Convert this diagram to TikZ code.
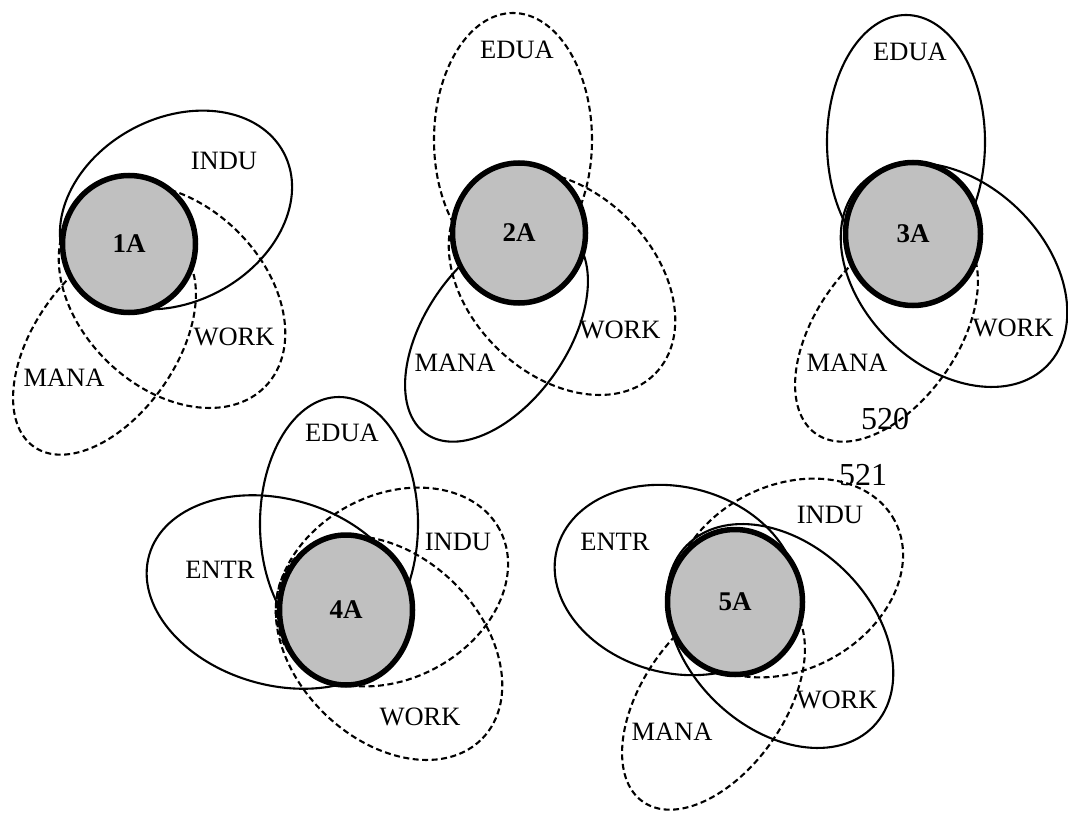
\documentclass[tikz,border=0pt]{standalone}
\usepackage{fontspec}
\setmainfont{Liberation Serif}
\usetikzlibrary{shapes.geometric}
\definecolor{corefill}{RGB}{192,192,192}
\begin{document}
\begin{tikzpicture}[x=1pt,y=-1pt,
  solidell/.style={line width=2.1pt},
  dashell/.style={line width=2.1pt, dash pattern=on 6pt off 3.5pt},
  core/.style={ellipse, draw, line width=5.5pt, fill=corefill, inner sep=0pt,
    font=\fontsize{27}{32}\selectfont\bfseries},
  lbl/.style={font=\fontsize{26.5}{31}\selectfont, inner sep=0pt},
  num/.style={font=\fontsize{32}{38}\selectfont, inner sep=0pt}]
\useasboundingbox (0,0) rectangle (1068,813);

% ---------- cluster 1 ----------
\draw[solidell, rotate around={28:(176,210)}] (176,210) ellipse [x radius=122pt, y radius=92pt];
\draw[dashell, rotate around={-44:(172,296)}] (172,296) ellipse [x radius=130pt, y radius=92pt];
\draw[dashell, rotate around={55:(104.5,346)}] (104.5,346) ellipse [x radius=123pt, y radius=71pt];
\node[core, minimum width=133pt, minimum height=137pt] (c1) at (129,244) {1A};
\node[lbl] (l1i) at (224,161) {INDU};
\node[lbl] (l1w) at (234,337) {WORK};
\node[lbl] (l1m) at (64,378) {MANA};

% ---------- cluster 2 ----------
\draw[dashell] (513,140) ellipse [x radius=79pt, y radius=127pt];
\draw[dashell, rotate around={-44:(562,283)}] (562,283) ellipse [x radius=130pt, y radius=92pt];
\draw[solidell, rotate around={55:(496.5,333)}] (496.5,333) ellipse [x radius=123pt, y radius=71pt];
\node[core, minimum width=133pt, minimum height=140pt] (c2) at (519,233) {2A};
\node[lbl] (l2e) at (517,50) {EDUA};
\node[lbl] (l2w) at (620,330) {WORK};
\node[lbl] (l2m) at (455,363) {MANA};

% ---------- cluster 3 ----------
\draw[solidell] (906,142) ellipse [x radius=79pt, y radius=127pt];
\draw[solidell, rotate around={-44:(954,275)}] (954,275) ellipse [x radius=130pt, y radius=92pt];
\draw[dashell, rotate around={55:(886.5,333)}] (886.5,333) ellipse [x radius=123pt, y radius=71pt];
\node[core, minimum width=135pt, minimum height=143pt] (c3) at (913,234) {3A};
\node[lbl] (l3e) at (910,52) {EDUA};
\node[lbl] (l3w) at (1013,328) {WORK};
\node[lbl] (l3m) at (847,363) {MANA};
\node[num] (n520) at (885,419) {520};

% ---------- cluster 4 ----------
\draw[solidell] (339,524) ellipse [x radius=79pt, y radius=127pt];
\draw[solidell, rotate around={-16:(278,592)}] (278,592) ellipse [x radius=134pt, y radius=93pt];
\draw[dashell, rotate around={28:(392,587)}] (392,587) ellipse [x radius=122pt, y radius=92pt];
\draw[dashell, rotate around={-44:(389,648)}] (389,648) ellipse [x radius=130pt, y radius=92pt];
\node[core, minimum width=133pt, minimum height=150pt] (c4) at (346,610) {4A};
\node[lbl] (l4e) at (342,433) {EDUA};
\node[lbl] (l4n) at (220,570) {ENTR};
\node[lbl] (l4i) at (458,542) {INDU};
\node[lbl] (l4w) at (420,717) {WORK};

% ---------- cluster 5 ----------
\draw[solidell, rotate around={-14.5:(676,580)}] (676,580) ellipse [x radius=123pt, y radius=93pt];
\draw[dashell, rotate around={28:(787,578)}] (787,578) ellipse [x radius=122pt, y radius=92pt];
\draw[solidell, rotate around={-44:(780,636)}] (780,636) ellipse [x radius=130pt, y radius=92pt];
\draw[dashell, rotate around={55:(713.5,701)}] (713.5,701) ellipse [x radius=123pt, y radius=71pt];
\node[core, minimum width=135pt, minimum height=145pt] (c5) at (735,602) {5A};
\node[lbl] (l5n) at (615,542) {ENTR};
\node[lbl] (l5i) at (830,515) {INDU};
\node[lbl] (l5w) at (837,700) {WORK};
\node[lbl] (l5m) at (672,732) {MANA};
\node[num] (n521) at (863,475) {521};
\end{tikzpicture}
\end{document}
